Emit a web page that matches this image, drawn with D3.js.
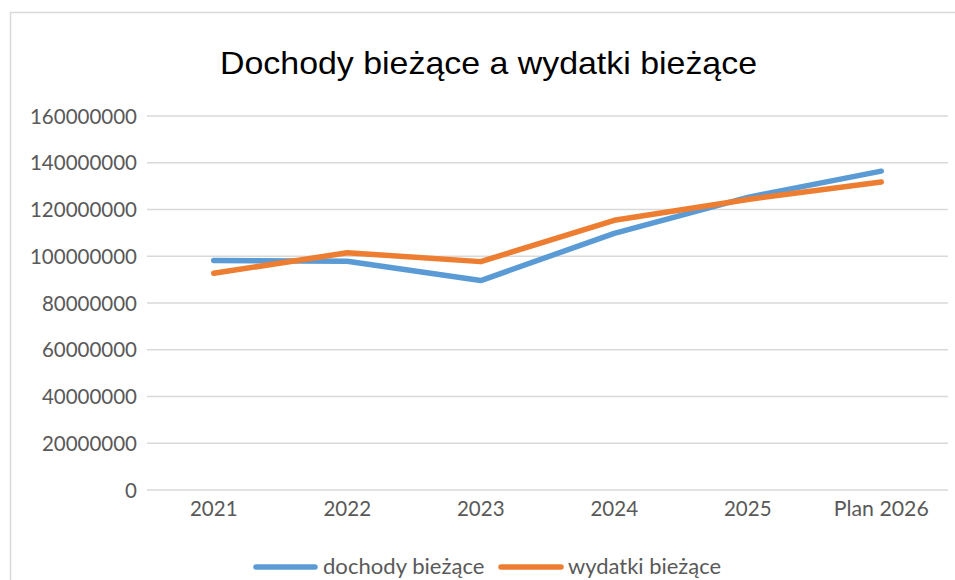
<!DOCTYPE html>
<html><head><meta charset="utf-8">
<script src="https://cdn.jsdelivr.net/npm/d3@7"></script>
<style>
html,body{margin:0;padding:0;background:#fff;}
svg{display:block;}
</style></head>
<body>
<svg id="chart" width="955" height="580"></svg>
<script>
const categories = ["2021","2022","2023","2024","2025","Plan 2026"];
const dochody = [98200000, 97900000, 89600000, 109800000, 125200000, 136400000];
const wydatki = [92700000, 101500000, 97700000, 115400000, 124300000, 131800000];
const yTicks = [0,20000000,40000000,60000000,80000000,100000000,120000000,140000000,160000000];
const seriesNames = ["dochody bieżące","wydatki bieżące"];
const colors = ["#5b9bd5","#ed7d31"];

const svg = d3.select("#chart");
const W = 955, H = 580;
const plot = {left:147, right:948, top:116, bottom:490};

svg.append("rect").attr("x",10.5).attr("y",12.5).attr("width",W+10).attr("height",H+10)
  .attr("fill","#fff").attr("stroke","#d9d9d9").attr("stroke-width",1.5);

svg.append("text").attr("x",488.5).attr("y",74).attr("text-anchor","middle")
  .attr("font-family","Liberation Sans, Arial, sans-serif").attr("font-size",32).attr("fill","#000")
  .attr("textLength",537).attr("lengthAdjust","spacingAndGlyphs")
  .text("Dochody bieżące a wydatki bieżące");

const x = d3.scaleBand().domain(categories).range([plot.left, plot.right]);
const y = d3.scaleLinear().domain([0,160000000]).range([plot.bottom, plot.top]);

const font = "Lato, 'Open Sans', sans-serif";
const txtCol = "#595959";

// gridlines
svg.append("g").selectAll("line").data(yTicks).join("line")
  .attr("x1",plot.left).attr("x2",plot.right)
  .attr("y1",d=>y(d)).attr("y2",d=>y(d))
  .attr("stroke","#d9d9d9").attr("stroke-width",1.5);

// y axis labels
const yAxis = d3.axisLeft(y).tickValues(yTicks).tickSize(0).tickPadding(10).tickFormat(d3.format("d"));
const gy = svg.append("g").attr("transform",`translate(${plot.left},0)`).call(yAxis);
gy.select(".domain").remove();
gy.selectAll("text").attr("font-family",font).attr("font-size",20.5).attr("fill",txtCol).attr("dy","0.35em");

// x axis labels
const xAxis = d3.axisBottom(x).tickSize(0).tickPadding(11);
const gx = svg.append("g").attr("transform",`translate(0,${plot.bottom})`).call(xAxis);
gx.select(".domain").remove();
gx.selectAll("text").attr("font-family",font).attr("font-size",20.5).attr("fill",txtCol);
gx.selectAll("text").filter(d=>d==="Plan 2026").attr("textLength",95).attr("lengthAdjust","spacingAndGlyphs");

const line = d3.line().x((d,i)=>x(categories[i])+x.bandwidth()/2).y(d=>y(d));
[dochody, wydatki].forEach((s,k)=>{
  svg.append("path").datum(s).attr("d",line).attr("fill","none")
    .attr("stroke",colors[k]).attr("stroke-width",5.5)
    .attr("stroke-linecap","round").attr("stroke-linejoin","round");
});

// legend
const legY = 567;
const legItems = [{x1:256,x2:315,tx:323,tl:161.5},{x1:501,x2:561,tx:568,tl:153}];
legItems.forEach((p,k)=>{
  svg.append("line").attr("x1",p.x1).attr("x2",p.x2).attr("y1",legY).attr("y2",legY)
    .attr("stroke",colors[k]).attr("stroke-width",5.5).attr("stroke-linecap","round");
  svg.append("text").attr("x",p.tx).attr("y",legY).attr("dy","0.35em")
    .attr("font-family",font).attr("font-size",21).attr("fill",txtCol)
    .attr("textLength",p.tl).attr("lengthAdjust","spacingAndGlyphs").text(seriesNames[k]);
});
</script>
</body></html>
